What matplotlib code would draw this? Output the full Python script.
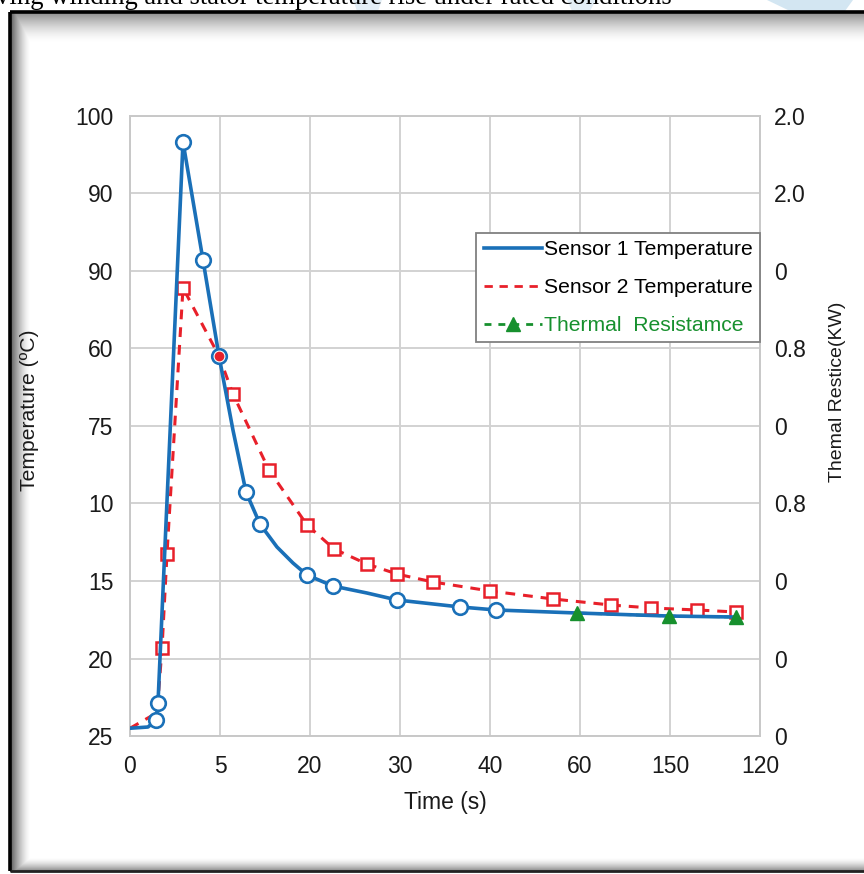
import numpy as np
import matplotlib
matplotlib.use("Agg")
import matplotlib.pyplot as plt
from matplotlib.lines import Line2D
from matplotlib.patches import Polygon

# ---------------- data (grid-position units) ----------------
x_tick_labels = ['0', '5', '20', '30', '40', '60', '150', '120']
y_left_labels = ['25', '20', '15', '10', '75', '60', '90', '90', '100']
y_right_labels = ['0', '0', '0', '0.8', '0', '0.8', '0', '2.0', '2.0']

s1_line_x = [0.0, 0.2, 0.289, 0.311, 0.589, 0.811, 0.989, 1.144, 1.289, 1.444, 1.633,
             1.811, 1.967, 2.256, 2.633, 2.967, 3.667, 4.067, 4.967, 5.989, 6.733]
s1_line_y = [0.10, 0.116, 0.206, 0.426, 7.665, 6.142, 4.903, 3.948, 3.148, 2.735, 2.439,
             2.232, 2.077, 1.935, 1.845, 1.755, 1.665, 1.626, 1.587, 1.548, 1.535]
s1_mark_x = [0.289, 0.311, 0.589, 0.811, 0.989, 1.289, 1.444, 1.967, 2.256, 2.967, 3.667, 4.067]
s1_mark_y = [0.206, 0.426, 7.665, 6.142, 4.903, 3.148, 2.735, 2.077, 1.935, 1.755, 1.665, 1.626]

s2_x = [0.0, 0.30, 0.356, 0.411, 0.589, 0.989, 1.144, 1.544, 1.967, 2.267, 2.633, 2.967,
        3.367, 4.0, 4.7, 5.344, 5.789, 6.3, 6.733]
s2_y = [0.10, 0.30, 1.135, 2.348, 5.781, 4.903, 4.413, 3.432, 2.723, 2.413, 2.219, 2.090,
        1.987, 1.871, 1.768, 1.690, 1.652, 1.626, 1.600]
s2_square_idx = [2, 3, 4, 6, 7, 8, 9, 10, 11, 12, 13, 14, 15, 16, 17, 18]
s2_dot_idx = [5]

tr_x = [4.967, 5.989, 6.733]
tr_y = [1.587, 1.548, 1.535]

title_text = "ving winding and stator temperature rise under rated conditions"

BLUE = '#1a70b8'
RED = '#e8202a'
GREEN = '#17902e'

W, H = 864, 874
fig = plt.figure(figsize=(W / 100, H / 100), dpi=100)
fig.patch.set_facecolor('white')

# ---------------- background decoration (frame with inner shadow) ----------------
bg = fig.add_axes([0, 0, 1, 1], zorder=-5)
bg.set_xlim(0, W)
bg.set_ylim(H, 0)
bg.axis('off')

img = np.ones((H, W, 3))
yy, xx = np.mgrid[0:H, 0:W]
L, T, B = 10, 12, 871
dl = np.clip((xx - L) / 20.0, 0, 1)
dt = np.clip((yy - T) / 30.0, 0, 1)
db = np.clip((B - yy) / 14.0, 0, 1)
shade = np.maximum.reduce([(1 - dl) ** 1.5 * 0.65, (1 - dt) ** 1.6 * 0.45, (1 - db) ** 1.6 * 0.5])
inside = (xx >= L) & (yy >= T) & (yy <= B)
for c in range(3):
    img[..., c] = np.where(inside, 1 - shade, 1.0)
bg.imshow(img, extent=(0, W, H, 0), aspect='auto', interpolation='bilinear')

# light blue decorative shapes at the top
bg.add_patch(Polygon([[767, 0], [853, 0], [845, 11], [790, 11]], closed=True,
                     facecolor='#d3e6f2', edgecolor='none'))
bg.add_patch(Polygon([[353, 0], [382, 0], [378, 11], [357, 11]], closed=True,
                     facecolor='#e3eef6', edgecolor='none'))
bg.add_patch(Polygon([[567, 0], [596, 0], [590, 11], [572, 11]], closed=True,
                     facecolor='#e3eef6', edgecolor='none'))
# frame lines
bg.plot([L, W], [T, T], color='black', lw=2.6, solid_capstyle='butt')
bg.plot([L, L], [T, B], color='black', lw=2.6, solid_capstyle='butt')
bg.plot([L, W], [B, B], color='#222222', lw=2.0, solid_capstyle='butt')

fig.text(-4 / W, 1 - 4 / H, title_text, fontsize=19.2, family='Liberation Serif',
         ha='left', va='baseline', color='black')

# ---------------- main axes ----------------
FS_TICK = 16.5
ax = fig.add_axes([130 / W, 1 - 736 / H, 630 / W, 620 / H])
ax.set_facecolor('white')
ax.set_xlim(0, 7)
ax.set_ylim(0, 8)
ax.set_xticks(range(len(x_tick_labels)))
ax.set_xticklabels(x_tick_labels)
ax.set_yticks(range(len(y_left_labels)))
ax.set_yticklabels(y_left_labels)
ax.grid(True, color='#d2d2d2', lw=1.4)
ax.set_axisbelow(True)
for s in ax.spines.values():
    s.set_color('#c8c8c8')
    s.set_linewidth(1.4)
ax.tick_params(axis='both', length=0, labelsize=FS_TICK, colors='#1a1a1a')
ax.tick_params(axis='x', pad=14)
ax.tick_params(axis='y', pad=12)
for lab in ax.get_xticklabels() + ax.get_yticklabels():
    lab.set_family('Liberation Sans')

ax2 = ax.twinx()
ax2.set_ylim(0, 8)
ax2.set_yticks(range(len(y_right_labels)))
ax2.set_yticklabels(y_right_labels)
ax2.tick_params(axis='y', length=0, labelsize=FS_TICK, pad=10, colors='#1a1a1a')
for lab in ax2.get_yticklabels():
    lab.set_family('Liberation Sans')
for s in ax2.spines.values():
    s.set_visible(False)

# series
ax.plot(tr_x, tr_y, color=GREEN, lw=2, ls='--', zorder=2)
ax.plot(s2_x, s2_y, color=RED, lw=2.2, ls=(0, (3.2, 2.6)), zorder=3)
ax.plot([s2_x[i] for i in s2_square_idx], [s2_y[i] for i in s2_square_idx], ls='none',
        marker='s', ms=9, mfc='white', mec=RED, mew=1.8, zorder=4)
ax.plot(s1_line_x, s1_line_y, color=BLUE, lw=2.6, zorder=5)
ax.plot(s1_mark_x, s1_mark_y, ls='none', marker='o', ms=10.5, mfc='white', mec=BLUE,
        mew=1.9, zorder=6)
ax.plot([s2_x[i] for i in s2_dot_idx], [s2_y[i] for i in s2_dot_idx], ls='none',
        marker='o', ms=6, color=RED, zorder=7)
ax.plot(tr_x, tr_y, ls='none', marker='^', ms=10, color=GREEN, zorder=8)

# legend
handles = [
    Line2D([], [], color=BLUE, lw=2.6),
    Line2D([], [], color=RED, lw=2.0, ls=(0, (3, 2.4))),
    Line2D([], [], color=GREEN, lw=2.0, ls=(0, (2.5, 2.5)), marker='^', ms=10),
]
labels = ['Sensor 1 Temperature', 'Sensor 2 Temperature', 'Thermal  Resistamce']
leg = ax2.legend(handles, labels, loc='upper right', bbox_to_anchor=(1.0, 0.812),
                 borderaxespad=0, fancybox=False, framealpha=1, edgecolor='#808080',
                 handlelength=2.75, handletextpad=0.1, labelspacing=0.9,
                 borderpad=0.35, prop={'family': 'Liberation Sans', 'size': 15.2})
leg.get_frame().set_linewidth(1.3)
leg.get_texts()[2].set_color(GREEN)

ax.set_xlabel('Time (s)', fontsize=16.5, family='Liberation Sans', labelpad=9, color='#1a1a1a')
fig.text(30 / W, 1 - 410 / H, 'Temperature (ºC)', rotation=90, fontsize=15.2,
         family='Liberation Sans', ha='center', va='center', color='#1a1a1a')
fig.text(838 / W, 1 - 392 / H, 'Themal Restice(KW)', rotation=90, fontsize=14,
         family=['Liberation Sans Narrow', 'Liberation Sans'], ha='center', va='center',
         color='#1a1a1a')

fig.savefig('out.png', dpi=100)
